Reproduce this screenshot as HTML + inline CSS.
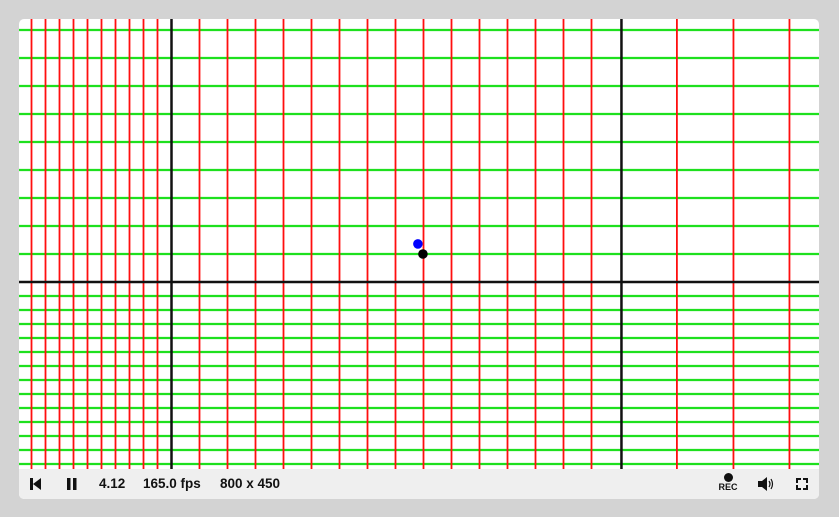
<!DOCTYPE html>
<html><head><meta charset="utf-8"><style>
html,body{margin:0;padding:0;width:839px;height:517px;overflow:hidden;background:#d3d3d3;font-family:"Liberation Sans",sans-serif;}
#wrap{position:absolute;left:19px;top:19px;width:800px;height:480px;border-radius:5px;overflow:hidden;background:#fff;}
#bar{position:absolute;left:0;top:450px;width:800px;height:30px;background:#efefef;font-size:13.5px;font-weight:bold;color:#111;}
.t{position:absolute;top:7px;}
</style></head><body>
<div id="wrap">
<svg id="cv" width="800" height="450" style="position:absolute;left:0;top:0"></svg>
<div id="bar">
 <svg style="position:absolute;left:10px;top:8px" width="14" height="14"><rect x="1" y="1" width="3" height="12" fill="#111"/><polygon points="4,7 12,1 12,13" fill="#111"/></svg>
 <svg style="position:absolute;left:47px;top:8px" width="12" height="14"><rect x="1" y="1" width="3.5" height="12" fill="#111"/><rect x="7" y="1" width="3.5" height="12" fill="#111"/></svg>
 <span class="t" style="left:80px">4.12</span>
 <span class="t" style="left:124px">165.0 fps</span>
 <span class="t" style="left:201px">800 x 450</span>
 <div style="position:absolute;left:699px;top:3px;width:20px;text-align:center;font-size:9px"><div style="width:9px;height:9px;border-radius:50%;background:#111;margin:1px auto 0"></div>REC</div>
 <svg style="position:absolute;left:737px;top:6px" width="20" height="18"><polygon points="2,6 6,6 11,2 11,16 6,12 2,12" fill="#111"/><path d="M13,6 Q15,9 13,12 M15,4 Q18,9 15,14" stroke="#111" fill="none" stroke-width="1.2"/></svg>
 <svg style="position:absolute;left:776px;top:8px" width="14" height="14"><path d="M1,1h5v2h-3v3h-2z M13,1v5h-2v-3h-3v-2z M1,13v-5h2v3h3v2z M13,13h-5v-2h3v-3h2z" fill="#111"/></svg>
</div>
</div>
<script>
const xGrid=[-5,-4.5,-4,-3.5,-3,-2.5,-2,-1.5,-1,-0.5,1,2,3,4,5,6,7,8,9,10,11,12,13,14,15,18.05,20.07,22.07];
const yGrid=[1,2,3,4,5,6,7,8,9,-0.5,-1,-1.5,-2,-2.5,-3,-3.5,-4,-4.5,-5,-5.5,-6,-6.5];
const axisX=[0,16.07];
const axisY=[0];
const points=[{x:8.8,y:1.36,c:"#0000ff"},{x:8.98,y:1}];
const NS="http://www.w3.org/2000/svg";
const svg=document.getElementById('cv');
const sx=v=>152.5+v*28, sy=v=>263-v*28;
function ln(x1,y1,x2,y2,c,w,name){const l=document.createElementNS(NS,'line');l.setAttribute('x1',x1);l.setAttribute('y1',y1);l.setAttribute('x2',x2);l.setAttribute('y2',y2);l.setAttribute('stroke',c);l.setAttribute('stroke-width',w);


svg.appendChild(l);}
yGrid.forEach(v=>ln(0,sy(v),800,sy(v),'#1ee01e',2.2,'green-grid-line'));
xGrid.forEach(v=>ln(sx(v),0,sx(v),450,'#ff0f0f',1.8,'red-grid-line'));
axisY.forEach(v=>ln(0,sy(v),800,sy(v),'#111',2.5,'x-axis'));
axisX.forEach(v=>ln(sx(v),0,sx(v),450,'#111',2.5,'y-axis'));
points.forEach(p=>{const c=document.createElementNS(NS,'circle');c.setAttribute('cx',sx(p.x));c.setAttribute('cy',sy(p.y));c.setAttribute('r',4.8);c.setAttribute('fill',p.c||'#000');


svg.appendChild(c);});
</script>
</body></html>
